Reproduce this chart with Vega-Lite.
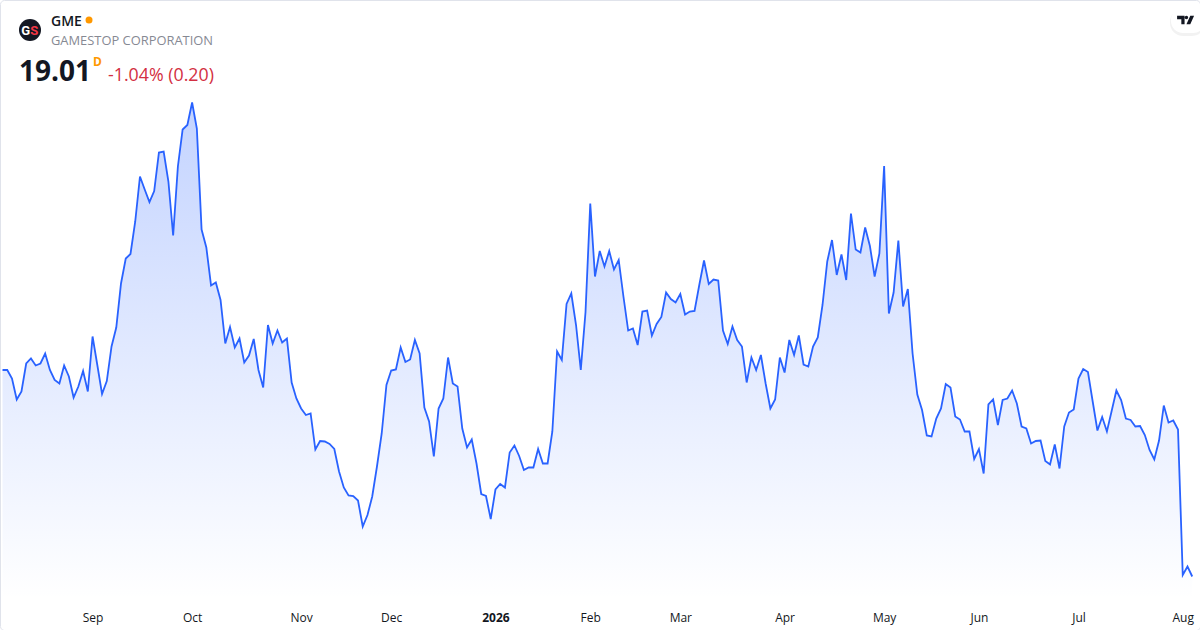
{
  "$schema": "https://vega.github.io/schema/vega-lite/v6.json",
  "width": 1200,
  "height": 630,
  "padding": 0,
  "autosize": {"type": "none"},
  "background": "#ffffff",
  "config": {"view": {"stroke": "#e0e3eb", "cornerRadius": 4}, "font": "Open Sans"},
  "datasets": {
    "closes": [
      {"session":0,"close":23.14},{"session":1,"close":23.14},{"session":2,"close":22.97},{"session":3,"close":22.55},{"session":4,"close":22.71},{"session":5,"close":23.27},{"session":6,"close":23.37},{"session":7,"close":23.23},{"session":8,"close":23.27},{"session":9,"close":23.47},
      {"session":10,"close":23.14},{"session":11,"close":22.94},{"session":12,"close":22.87},{"session":13,"close":23.23},{"session":14,"close":23.01},{"session":15,"close":22.59},{"session":16,"close":22.81},{"session":17,"close":23.12},{"session":18,"close":22.71},{"session":19,"close":23.81},
      {"session":20,"close":23.24},{"session":21,"close":22.66},{"session":22,"close":22.92},{"session":23,"close":23.61},{"session":24,"close":23.99},{"session":25,"close":24.87},{"session":26,"close":25.37},{"session":27,"close":25.46},{"session":28,"close":26.11},{"session":29,"close":27.01},
      {"session":30,"close":26.75},{"session":31,"close":26.50},{"session":32,"close":26.72},{"session":33,"close":27.49},{"session":34,"close":27.51},{"session":35,"close":26.91},{"session":36,"close":25.83},{"session":37,"close":27.21},{"session":38,"close":27.95},{"session":39,"close":28.04},
      {"session":40,"close":28.49},{"session":41,"close":27.97},{"session":42,"close":25.95},{"session":43,"close":25.59},{"session":44,"close":24.83},{"session":45,"close":24.89},{"session":46,"close":24.54},{"session":47,"close":23.67},{"session":48,"close":24.00},{"session":49,"close":23.59},
      {"session":50,"close":23.77},{"session":51,"close":23.29},{"session":52,"close":23.43},{"session":53,"close":23.76},{"session":54,"close":23.14},{"session":55,"close":22.79},{"session":56,"close":24.04},{"session":57,"close":23.67},{"session":58,"close":23.93},{"session":59,"close":23.69},
      {"session":60,"close":23.77},{"session":61,"close":22.89},{"session":62,"close":22.57},{"session":63,"close":22.37},{"session":64,"close":22.24},{"session":65,"close":22.27},{"session":66,"close":21.55},{"session":67,"close":21.72},{"session":68,"close":21.71},{"session":69,"close":21.66},
      {"session":70,"close":21.56},{"session":71,"close":21.11},{"session":72,"close":20.79},{"session":73,"close":20.63},{"session":74,"close":20.62},{"session":75,"close":20.53},{"session":76,"close":20.01},{"session":77,"close":20.24},{"session":78,"close":20.61},{"session":79,"close":21.21},
      {"session":80,"close":21.87},{"session":81,"close":22.84},{"session":82,"close":23.13},{"session":83,"close":23.15},{"session":84,"close":23.59},{"session":85,"close":23.30},{"session":86,"close":23.35},{"session":87,"close":23.74},{"session":88,"close":23.47},{"session":89,"close":22.39},
      {"session":90,"close":22.11},{"session":91,"close":21.41},{"session":92,"close":22.37},{"session":93,"close":22.57},{"session":94,"close":23.39},{"session":95,"close":22.87},{"session":96,"close":22.81},{"session":97,"close":21.97},{"session":98,"close":21.59},{"session":99,"close":21.75},
      {"session":100,"close":21.27},{"session":101,"close":20.66},{"session":102,"close":20.62},{"session":103,"close":20.16},{"session":104,"close":20.75},{"session":105,"close":20.86},{"session":106,"close":20.79},{"session":107,"close":21.49},{"session":108,"close":21.63},{"session":109,"close":21.42},
      {"session":110,"close":21.14},{"session":111,"close":21.19},{"session":112,"close":21.19},{"session":113,"close":21.56},{"session":114,"close":21.27},{"session":115,"close":21.27},{"session":116,"close":21.91},{"session":117,"close":23.51},{"session":118,"close":23.34},{"session":119,"close":24.46},
      {"session":120,"close":24.67},{"session":121,"close":24.04},{"session":122,"close":23.14},{"session":123,"close":24.30},{"session":124,"close":26.47},{"session":125,"close":25.01},{"session":126,"close":25.52},{"session":127,"close":25.21},{"session":128,"close":25.52},{"session":129,"close":25.15},
      {"session":130,"close":25.34},{"session":131,"close":24.61},{"session":132,"close":23.93},{"session":133,"close":23.97},{"session":134,"close":23.64},{"session":135,"close":24.31},{"session":136,"close":24.33},{"session":137,"close":23.83},{"session":138,"close":24.06},{"session":139,"close":24.20},
      {"session":140,"close":24.69},{"session":141,"close":24.56},{"session":142,"close":24.49},{"session":143,"close":24.66},{"session":144,"close":24.25},{"session":145,"close":24.31},{"session":146,"close":24.32},{"session":147,"close":24.84},{"session":148,"close":25.33},{"session":149,"close":24.86},
      {"session":150,"close":24.95},{"session":151,"close":24.93},{"session":152,"close":23.93},{"session":153,"close":23.66},{"session":154,"close":24.01},{"session":155,"close":23.74},{"session":156,"close":23.61},{"session":157,"close":22.89},{"session":158,"close":23.39},{"session":159,"close":23.14},
      {"session":160,"close":23.44},{"session":161,"close":22.87},{"session":162,"close":22.37},{"session":163,"close":22.55},{"session":164,"close":23.39},{"session":165,"close":23.09},{"session":166,"close":23.74},{"session":167,"close":23.44},{"session":168,"close":23.83},{"session":169,"close":23.25},
      {"session":170,"close":23.21},{"session":171,"close":23.61},{"session":172,"close":23.79},{"session":173,"close":24.44},{"session":174,"close":25.31},{"session":175,"close":25.74},{"session":176,"close":25.04},{"session":177,"close":25.45},{"session":178,"close":24.94},{"session":179,"close":26.27},
      {"session":180,"close":25.55},{"session":181,"close":25.49},{"session":182,"close":25.99},{"session":183,"close":25.62},{"session":184,"close":25.01},{"session":185,"close":25.47},{"session":186,"close":27.22},{"session":187,"close":24.27},{"session":188,"close":24.69},{"session":189,"close":25.73},
      {"session":190,"close":24.41},{"session":191,"close":24.76},{"session":192,"close":23.47},{"session":193,"close":22.65},{"session":194,"close":22.34},{"session":195,"close":21.83},{"session":196,"close":21.81},{"session":197,"close":22.17},{"session":198,"close":22.37},{"session":199,"close":22.86},
      {"session":200,"close":22.79},{"session":201,"close":22.21},{"session":202,"close":22.15},{"session":203,"close":21.91},{"session":204,"close":21.91},{"session":205,"close":21.36},{"session":206,"close":21.56},{"session":207,"close":21.07},{"session":208,"close":22.45},{"session":209,"close":22.55},
      {"session":210,"close":22.04},{"session":211,"close":22.54},{"session":212,"close":22.57},{"session":213,"close":22.73},{"session":214,"close":22.47},{"session":215,"close":22.01},{"session":216,"close":21.97},{"session":217,"close":21.67},{"session":218,"close":21.72},{"session":219,"close":21.73},
      {"session":220,"close":21.32},{"session":221,"close":21.25},{"session":222,"close":21.65},{"session":223,"close":21.17},{"session":224,"close":22.01},{"session":225,"close":22.29},{"session":226,"close":22.35},{"session":227,"close":22.97},{"session":228,"close":23.16},{"session":229,"close":23.10},
      {"session":230,"close":22.51},{"session":231,"close":21.93},{"session":232,"close":22.20},{"session":233,"close":21.91},{"session":234,"close":22.32},{"session":235,"close":22.73},{"session":236,"close":22.54},{"session":237,"close":22.17},{"session":238,"close":22.14},{"session":239,"close":22.01},
      {"session":240,"close":22.02},{"session":241,"close":21.84},{"session":242,"close":21.54},{"session":243,"close":21.35},{"session":244,"close":21.73},{"session":245,"close":22.43},{"session":246,"close":22.09},{"session":247,"close":22.13},{"session":248,"close":21.95},{"session":249,"close":19.04},
      {"session":250,"close":19.21},{"session":251,"close":19.01}
    ],
    "header": [
      {"id": "ticker", "label": "GME"},
      {"id": "name", "label": "GAMESTOP CORPORATION"},
      {"id": "last", "label": "19.01"},
      {"id": "interval", "label": "D"},
      {"id": "change", "label": "-1.04% (0.20)"},
      {"id": "g", "label": "G"},
      {"id": "s", "label": "S"}
    ]
  },
  "layer": [
    {
      "data": {"name": "closes"},
      "mark": {
        "type": "area",
        "color": {
          "gradient": "linear",
          "x1": 0, "y1": 0, "x2": 0, "y2": 1,
          "stops": [
            {"offset": 0, "color": "rgba(41,98,255,0.28)"},
            {"offset": 1, "color": "rgba(41,98,255,0)"}
          ]
        }
      },
      "encoding": {
        "x": {
          "field": "session",
          "type": "quantitative",
          "title": null,
          "scale": {"domain": [-0.53, 252.64], "nice": false, "zero": false},
          "axis": {
            "values": [19, 40, 63, 82, 104, 124, 143, 165, 186, 206, 227, 249],
            "labelExpr": "{19: 'Sep', 40: 'Oct', 63: 'Nov', 82: 'Dec', 104: '2026', 124: 'Feb', 143: 'Mar', 165: 'Apr', 186: 'May', 206: 'Jun', 227: 'Jul', 249: 'Aug'}[datum.value]",
            "labelFontWeight": {"condition": {"test": "datum.value === 104", "value": "bold"}, "value": "normal"},
            "labelFont": "Open Sans",
            "labelFontSize": 12,
            "labelColor": "#131722",
            "labelPadding": 8,
            "labelOverlap": false,
            "offset": -26,
            "domain": false,
            "ticks": false,
            "grid": false,
            "title": null
          }
        },
        "y": {
          "field": "close",
          "type": "quantitative",
          "title": null,
          "scale": {"domain": [17.94, 30.54], "nice": false, "zero": false},
          "axis": null
        },
        "y2": {"datum": 18.54}
      }
    },
    {
      "data": {"name": "closes"},
      "mark": {"type": "line", "color": "#2962ff", "strokeWidth": 1.8},
      "encoding": {
        "x": {"field": "session", "type": "quantitative"},
        "y": {"field": "close", "type": "quantitative"}
      }
    },
    {
      "data": {"values": [{"id": "logo"}]},
      "mark": {"type": "point", "filled": true, "opacity": 1, "color": "#131722", "size": 484, "shape": "circle"},
      "encoding": {"x": {"datum": 5.8, "type": "quantitative"}, "y": {"datum": 29.94, "type": "quantitative"}}
    },
    {
      "data": {"name": "header"},
      "transform": [{"filter": "datum.id === 'g'"}],
      "mark": {"type": "text", "font": "Roboto", "fontWeight": "bold", "fontSize": 13, "color": "#ffffff", "dx": -4.2},
      "encoding": {"x": {"datum": 5.8, "type": "quantitative"}, "y": {"datum": 29.93, "type": "quantitative"}, "text": {"field": "label"}}
    },
    {
      "data": {"name": "header"},
      "transform": [{"filter": "datum.id === 's'"}],
      "mark": {"type": "text", "font": "Roboto", "fontWeight": "bold", "fontSize": 13, "color": "#f23645", "dx": 4.2},
      "encoding": {"x": {"datum": 5.8, "type": "quantitative"}, "y": {"datum": 29.93, "type": "quantitative"}, "text": {"field": "label"}}
    },
    {
      "data": {"name": "header"},
      "transform": [{"filter": "datum.id === 'ticker'"}],
      "mark": {"type": "text", "align": "left", "fontWeight": 600, "fontSize": 14, "color": "#131722"},
      "encoding": {"x": {"datum": 10.23, "type": "quantitative"}, "y": {"datum": 30.11, "type": "quantitative"}, "text": {"field": "label"}}
    },
    {
      "data": {"values": [{"id": "status"}]},
      "mark": {"type": "point", "filled": true, "opacity": 1, "color": "#ff9800", "size": 49, "shape": "circle"},
      "encoding": {"x": {"datum": 18.25, "type": "quantitative"}, "y": {"datum": 30.14, "type": "quantitative"}}
    },
    {
      "data": {"name": "header"},
      "transform": [{"filter": "datum.id === 'name'"}],
      "mark": {"type": "text", "align": "left", "fontSize": 12.9, "color": "#868993"},
      "encoding": {"x": {"datum": 10.23, "type": "quantitative"}, "y": {"datum": 29.72, "type": "quantitative"}, "text": {"field": "label"}}
    },
    {
      "data": {"name": "header"},
      "transform": [{"filter": "datum.id === 'last'"}],
      "mark": {"type": "text", "align": "left", "fontWeight": "bold", "fontSize": 28, "color": "#131722"},
      "encoding": {"x": {"datum": 3.49, "type": "quantitative"}, "y": {"datum": 29.09, "type": "quantitative"}, "text": {"field": "label"}}
    },
    {
      "data": {"name": "header"},
      "transform": [{"filter": "datum.id === 'interval'"}],
      "mark": {"type": "text", "align": "left", "fontWeight": "bold", "fontSize": 12, "color": "#ff9800"},
      "encoding": {"x": {"datum": 19.09, "type": "quantitative"}, "y": {"datum": 29.31, "type": "quantitative"}, "text": {"field": "label"}}
    },
    {
      "data": {"name": "header"},
      "transform": [{"filter": "datum.id === 'change'"}],
      "mark": {"type": "text", "align": "left", "fontSize": 17.8, "color": "#d32f42"},
      "encoding": {"x": {"datum": 22.26, "type": "quantitative"}, "y": {"datum": 29.03, "type": "quantitative"}, "text": {"field": "label"}}
    },
    {
      "data": {"values": [{"id": "pill-shadow"}]},
      "mark": {"type": "rect", "color": "#000000", "opacity": 0.05, "cornerRadius": 13, "clip": true},
      "encoding": {"x": {"datum": 246.3, "type": "quantitative"}, "x2": {"datum": 253.7}, "y": {"datum": 30.36, "type": "quantitative"}, "y2": {"datum": 29.82}}
    },
    {
      "data": {"values": [{"id": "pill"}]},
      "mark": {"type": "rect", "color": "#ffffff", "cornerRadius": 12, "clip": true},
      "encoding": {"x": {"datum": 246.52, "type": "quantitative"}, "x2": {"datum": 253.7}, "y": {"datum": 30.38, "type": "quantitative"}, "y2": {"datum": 29.88}}
    },
    {
      "data": {"values": [{"id": "tv-logo"}]},
      "mark": {
        "type": "point",
        "filled": true,
        "opacity": 1,
        "color": "#131722",
        "size": 289,
        "shape": "M-1 -0.5 H-0.12 V0.5 H-0.5 V-0.1 H-1 Z M0.3 -0.3 A0.2 0.2 0 1 1 -0.1 -0.3 A0.2 0.2 0 1 1 0.3 -0.3 Z M0.55 -0.5 H1 L0.55 0.5 H0.1 Z"
      },
      "encoding": {"x": {"datum": 249.6, "type": "quantitative"}, "y": {"datum": 30.14, "type": "quantitative"}}
    }
  ]
}
